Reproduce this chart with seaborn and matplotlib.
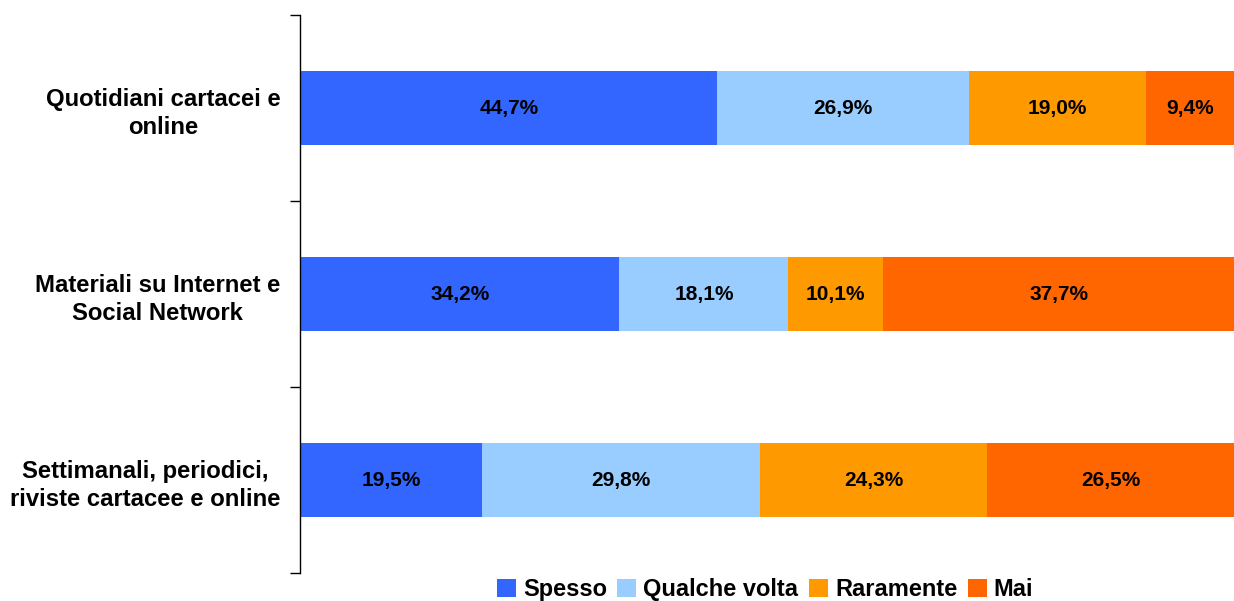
import numpy as np
import pandas as pd
import seaborn as sns
import matplotlib.pyplot as plt
from matplotlib.patches import Patch

# Dati
categorie = ["Quotidiani cartacei e\nonline",
             "Materiali su Internet e\nSocial Network",
             "Settimanali, periodici,\nriviste cartacee e online"]
serie = ["Spesso", "Qualche volta", "Raramente", "Mai"]
spesso = [44.7, 34.2, 19.5]
qualche_volta = [26.9, 18.1, 29.8]
raramente = [19.0, 10.1, 24.3]
mai = [9.4, 37.7, 26.5]
colori = ["#3366FF", "#99CCFF", "#FF9900", "#FF6600"]

sns.set_style("white")
plt.rcParams["font.family"] = ["Liberation Sans", "DejaVu Sans"]
plt.rcParams["text.color"] = "black"
plt.rcParams["ytick.color"] = "black"

valori = np.array([spesso, qualche_volta, raramente, mai])
cumulati = valori.cumsum(axis=0)

fig = plt.figure(figsize=(12.34, 6.01), dpi=100)
ax = fig.add_axes([300 / 1234, 1 - 573 / 601, 934 / 1234, 558 / 601])

# barre sovrapposte: prima i totali cumulati piu' lunghi
for i in reversed(range(len(serie))):
    df = pd.DataFrame({"categoria": categorie, "valore": cumulati[i]})
    sns.barplot(data=df, x="valore", y="categoria", color=colori[i],
                orient="h", width=0.4, saturation=1, linewidth=0, ax=ax)

for i in range(len(serie)):
    for j in range(len(categorie)):
        centro = cumulati[i][j] - valori[i][j] / 2
        ax.text(centro, j, f"{valori[i][j]:.1f}%".replace(".", ","),
                ha="center", va="center", fontsize=15, fontweight="bold",
                color="black")

ax.set_xlim(0, 100)
ax.set_ylim(2.5, -0.5)
ax.set_xlabel("")
ax.set_ylabel("")
ax.set_xticks([])
ax.set_yticks(range(len(categorie)))
ax.set_yticklabels(categorie, fontsize=17.2, fontweight="bold",
                   multialignment="center", linespacing=1.3)
ax.tick_params(axis="y", which="major", length=0, pad=14)
ax.set_yticks([-0.5, 0.5, 1.5, 2.5], minor=True)
ax.tick_params(axis="y", which="minor", length=7, width=1, direction="out", left=True)
for lato in ["top", "right", "bottom"]:
    ax.spines[lato].set_visible(False)
ax.spines["left"].set_color("black")
ax.spines["left"].set_linewidth(1)

maniglie = [Patch(facecolor=c, edgecolor="none") for c in colori]
fig.legend(maniglie, serie, loc="lower center", bbox_to_anchor=(0.620, -0.035),
           ncol=4, frameon=False, handlelength=0.8, handleheight=0.8,
           handletextpad=0.3, columnspacing=0.45,
           prop={"size": 17, "weight": "bold"})

fig.savefig("out.png", dpi=100)
